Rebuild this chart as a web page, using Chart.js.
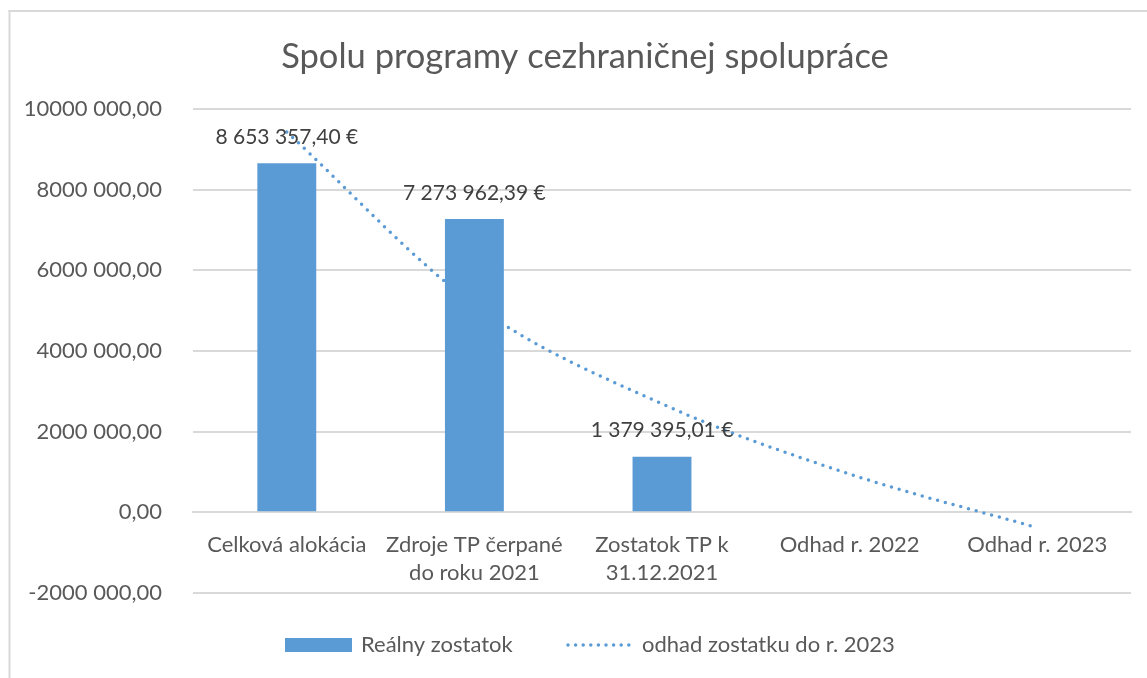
<!DOCTYPE html>
<html>
<head>
<meta charset="utf-8">
<script src="https://cdn.jsdelivr.net/npm/chart.js@4/dist/chart.umd.min.js"></script>
<style>
  html, body { margin: 0; padding: 0; background: #fff; }
  #wrap { width: 1147px; height: 678px; position: relative; }
</style>
</head>
<body>
<div id="wrap"><canvas id="c"></canvas></div>
<script>
// data
const categories = ["Celková alokácia", ["Zdroje TP čerpané", "do roku 2021"], ["Zostatok TP k", "31.12.2021"], "Odhad r. 2022", "Odhad r. 2023"];
const realValues = [8653357.4, 7273962.39, 1379395.01, null, null];
// dotted trend curve, one reading per category
const trendValues = [9430000, 5150000, 2690000, 950000, -380000];
const yTickValues = [-2000000, 0, 2000000, 4000000, 6000000, 8000000, 10000000];

const TITLE = "Spolu programy cezhraničnej spolupráce";
const SERIES_BAR = "Reálny zostatok";
const SERIES_LINE = "odhad zostatku do r. 2023";

const BLUE = "#5b9bd5";
const INK = "#595959"; // axis / title text
const LABEL_INK = "#404040"; // data labels
const GRID = "#d9d9d9";
const FONT = "Lato, 'Open Sans', sans-serif";

// "10000 000,00" style – only the last thousand group gets a space
function axisFmt(v) {
  const neg = v < 0;
  const n = Math.abs(Math.round(v));
  const s = n >= 1000 ? Math.floor(n / 1000) + " " + String(n % 1000).padStart(3, "0") : String(n);
  return (neg ? "-" : "") + s + ",00";
}

// "8 653 357,40 €"
function euroFmt(v) {
  const [i, d] = v.toFixed(2).split(".");
  return i.replace(/\B(?=(\d{3})+(?!\d))/g, " ") + "," + d + " €";
}

const barLabels = {
  id: "barLabels",
  afterDatasetsDraw(chart) {
    const meta = chart.getDatasetMeta(0);
    const ctx = chart.ctx;
    ctx.save();
    ctx.font = "21px " + FONT;
    ctx.fillStyle = LABEL_INK;
    ctx.textAlign = "center";
    ctx.textBaseline = "middle";
    meta.data.forEach((el, i) => {
      const v = realValues[i];
      if (v == null) return;
      ctx.fillText(euroFmt(v), el.x, el.y - 26);
    });
    ctx.restore();
  },
};

// frame, title and legend, Excel style
const decor = {
  id: "decor",
  afterDraw(chart) {
    const ctx = chart.ctx;
    ctx.save();
    ctx.fillStyle = GRID;
    ctx.fillRect(8.5, 10, 1147, 2);
    ctx.fillRect(8.5, 10, 2, 668);

    ctx.fillStyle = INK;
    ctx.font = "34.5px " + FONT;
    ctx.textAlign = "center";
    ctx.textBaseline = "middle";
    ctx.fillText(TITLE, 585, 57);

    const ly = 645;
    ctx.font = "22px " + FONT;
    ctx.textAlign = "left";
    ctx.fillStyle = BLUE;
    ctx.fillRect(285, ly - 7, 67, 14);
    ctx.fillStyle = INK;
    ctx.fillText(SERIES_BAR, 361, ly);

    ctx.strokeStyle = BLUE;
    ctx.lineWidth = 3.5;
    ctx.lineCap = "round";
    ctx.setLineDash([0, 7.6]);
    ctx.beginPath();
    ctx.moveTo(568, ly);
    ctx.lineTo(636, ly);
    ctx.stroke();
    ctx.setLineDash([]);
    ctx.fillText(SERIES_LINE, 642, ly);
    ctx.restore();
  },
};

new Chart(document.getElementById("c"), {
  type: "bar",
  data: {
    labels: categories,
    datasets: [
      {
        label: SERIES_BAR,
        data: realValues,
        backgroundColor: BLUE,
        categoryPercentage: 1,
        barPercentage: 0.314,
        order: 1,
      },
      {
        type: "line",
        label: SERIES_LINE,
        data: trendValues,
        borderColor: BLUE,
        borderWidth: 3.5,
        borderDash: [0, 8],
        borderCapStyle: "round",
        cubicInterpolationMode: "monotone",
        pointRadius: 0,
        fill: false,
        order: 2,
      },
    ],
  },
  options: {
    responsive: true,
    maintainAspectRatio: false,
    animation: false,
    layout: { padding: { top: 109, right: 16, bottom: 85, left: 0 } },
    scales: {
      x: {
        position: { y: 0 },
        grid: { display: false, drawTicks: false },
        border: { display: true, color: GRID, width: 2 },
        ticks: { color: INK, font: { family: FONT, size: 22, lineHeight: 1.27 }, padding: 19, maxRotation: 0, autoSkip: false },
      },
      y: {
        min: -2000000,
        max: 10000000,
        afterFit(s) {
          s.width = 193;
        },
        afterBuildTicks(s) {
          s.ticks = yTickValues.map((v) => ({ value: v }));
        },
        grid: { color: GRID, lineWidth: 2, drawTicks: false },
        border: { display: false },
        ticks: { color: INK, font: { family: FONT, size: 22 }, padding: 31, callback: (v) => axisFmt(v) },
      },
    },
    plugins: { legend: { display: false }, tooltip: { enabled: false } },
  },
  plugins: [barLabels, decor],
});
</script>
</body>
</html>
